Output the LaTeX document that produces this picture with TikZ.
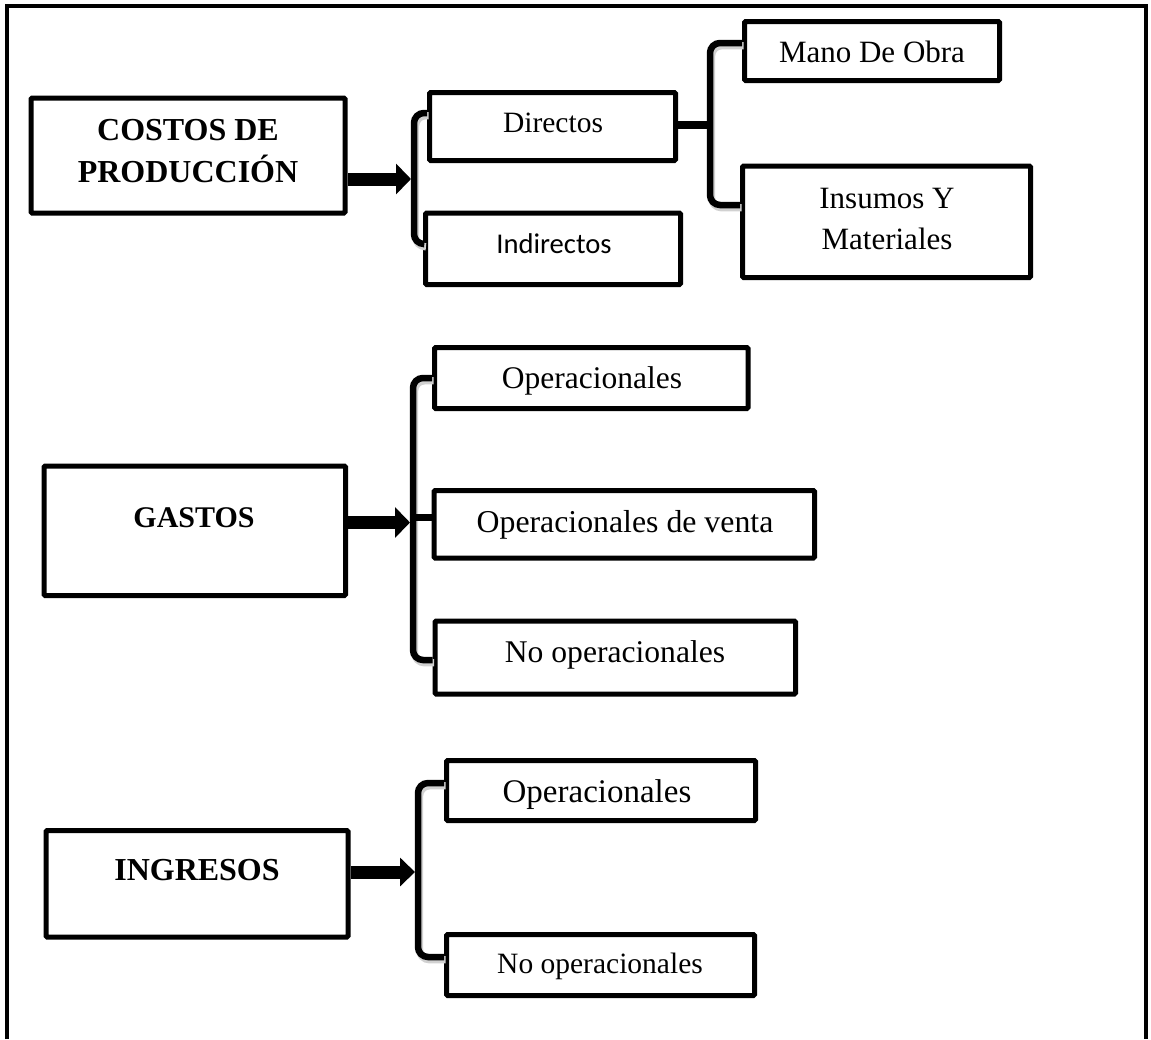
\documentclass[tikz,border=0pt]{standalone}
\usepackage{fontspec}
\setmainfont{Liberation Serif}
\newfontfamily\calib{Carlito}
\usetikzlibrary{arrows.meta}
\begin{document}
\begin{tikzpicture}[x=0.5pt,y=-0.5pt,
  box/.style={draw, line width=2.5pt, rectangle, inner sep=0pt, rounded corners=0.6pt},
  lbl/.style={anchor=base, inner sep=0pt, align=center},
  shad/.style={preaction={draw=black!18, line width=3.6pt, transform canvas={xshift=0.8pt,yshift=-1.4pt}}},
  brk/.style={line width=3.25pt, rounded corners=5pt, line cap=butt, shad},
  link/.style={line width=3.5pt, line cap=butt},
  bigarrow/.style={line width=6.5pt, line cap=butt, -{Triangle[length=7.5pt,width=15pt]}},
]
\useasboundingbox (0,0) rectangle (1151,1039);
% outer frame (open at the bottom)
\draw[line width=2pt, line join=miter] (6.5,1039) -- (6.5,5.5) -- (1145.5,5.5) -- (1145.5,1039);

% ---------- boxes ----------
\node[box, minimum width=157pt,   minimum height=57.5pt]  (costos)     at (188,155.5)   {};
\node[box, minimum width=123pt,   minimum height=34pt]    (directos)   at (552.5,126.5) {};
\node[box, minimum width=127.5pt, minimum height=35.75pt] (indirectos) at (553,248.75)  {};
\node[box, minimum width=127.5pt, minimum height=29.5pt]  (mano)       at (872,51)      {};
\node[box, minimum width=144pt,   minimum height=55.75pt] (insumos)    at (886.5,221.75){};
\node[box, minimum width=150.75pt,minimum height=64.75pt] (gastos)     at (194.75,530.75){};
\node[box, minimum width=156.75pt,minimum height=30.5pt]  (gop)        at (591.25,378)  {};
\node[box, minimum width=190.25pt,minimum height=33.75pt] (gventa)     at (624.25,524.25){};
\node[box, minimum width=180.25pt,minimum height=36.5pt]  (gnoop)      at (615.25,657.5){};
\node[box, minimum width=151pt,   minimum height=53.25pt] (ingresos)   at (197,883.75)  {};
\node[box, minimum width=154.5pt, minimum height=30pt]    (iop)        at (601,790.5)   {};
\node[box, minimum width=154pt,   minimum height=30.5pt]  (inoop)      at (600.5,965)   {};

% ---------- texts ----------
\node[lbl, font=\fontsize{16}{19}\selectfont\bfseries] (t-costos1) at (188,140) {COSTOS DE};
\node[lbl, font=\fontsize{16}{19}\selectfont\bfseries] (t-costos2) at (188,182) {PRODUCCIÓN};
\node[lbl, font=\fontsize{14.75}{17}\selectfont] (t-dir) at (553,132) {Directos};
\node[lbl, font=\fontsize{14.3}{17}\selectfont\calib] (t-ind) at (554,253) {Indirectos};
\node[lbl, font=\fontsize{15.5}{18}\selectfont] (t-mano) at (872,62) {Mano De Obra};
\node[lbl, font=\fontsize{15.5}{18}\selectfont] (t-ins1) at (887,208) {Insumos Y};
\node[lbl, font=\fontsize{15.5}{18}\selectfont] (t-ins2) at (887,249) {Materiales};
\node[lbl, font=\fontsize{15}{18}\selectfont\bfseries] (t-gastos) at (194,527) {GASTOS};
\node[lbl, font=\fontsize{15.75}{18}\selectfont] (t-gop) at (592,388) {Operacionales};
\node[lbl, font=\fontsize{15.9}{18}\selectfont] (t-gventa) at (625,532) {Operacionales de venta};
\node[lbl, font=\fontsize{15.8}{18}\selectfont] (t-gnoop) at (615,662) {No operacionales};
\node[lbl, font=\fontsize{16}{19}\selectfont\bfseries] (t-ingresos) at (197,880) {INGRESOS};
\node[lbl, font=\fontsize{16.5}{19}\selectfont] (t-iop) at (597,802) {Operacionales};
\node[lbl, font=\fontsize{14.75}{17}\selectfont] (t-inoop) at (600,973) {No operacionales};

% ---------- bracket anchor points ----------
\coordinate (cb-top) at (414,113);
\coordinate (cb-bot) at (414,244);
\coordinate (cb-mid) at (414,179);
\coordinate (db-top) at (710,43);
\coordinate (db-bot) at (710,205);
\coordinate (db-mid) at (710,125);
\coordinate (gb-top) at (413,378);
\coordinate (gb-bot) at (413,660);
\coordinate (gb-mid) at (413,517);
\coordinate (ga-mid) at (413,522.5);
\coordinate (ib-top) at (418,783);
\coordinate (ib-bot) at (418,957);
\coordinate (ib-mid) at (418,872);

% ---------- COSTOS ----------
\draw[brk] (directos.west |- cb-top) -- (cb-top) -- (cb-bot) -- (indirectos.west |- cb-bot);
\draw[bigarrow, shorten >=1.5pt] (costos.east |- cb-mid) -- (cb-mid);
\draw[brk] (mano.west |- db-top) -- (db-top) -- (db-bot) -- (insumos.west |- db-bot);
\draw[link, line width=4pt] (directos.east |- db-mid) -- (db-mid);

% ---------- GASTOS ----------
\draw[brk] (gop.west |- gb-top) -- (gb-top) -- (gb-bot) -- (gnoop.west |- gb-bot);
\draw[link] (gb-mid) -- (gventa.west |- gb-mid);
\draw[bigarrow, shorten >=1.5pt] (gastos.east |- ga-mid) -- (ga-mid);

% ---------- INGRESOS ----------
\draw[brk] (iop.west |- ib-top) -- (ib-top) -- (ib-bot) -- (inoop.west |- ib-bot);
\draw[bigarrow, shorten >=1.5pt, -{Triangle[length=7.5pt,width=14pt]}] (ingresos.east |- ib-mid) -- (ib-mid);
\end{tikzpicture}
\end{document}
